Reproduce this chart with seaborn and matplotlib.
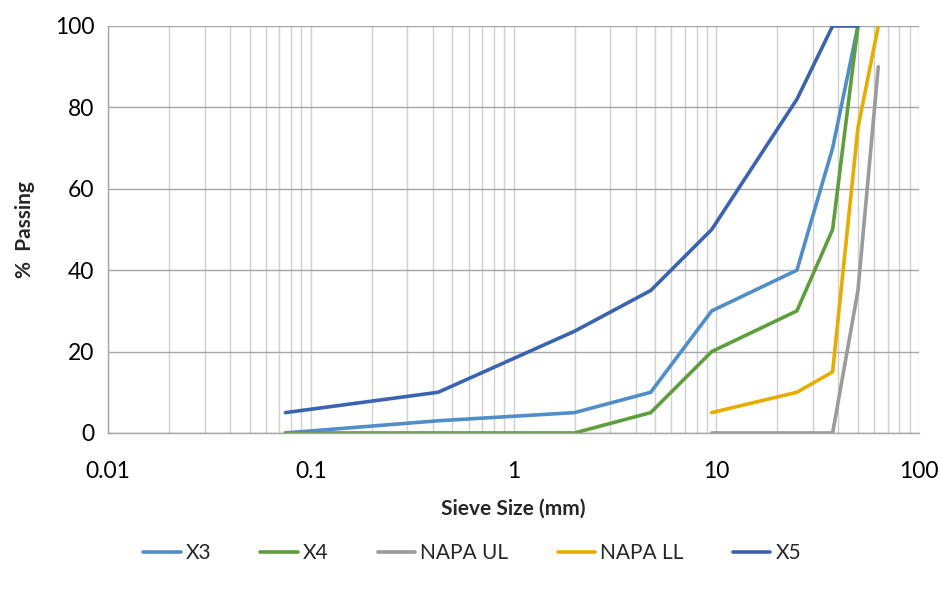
import pandas as pd
import matplotlib
matplotlib.use("Agg")
import matplotlib.pyplot as plt
import seaborn as sns
from matplotlib.ticker import LogLocator, FixedLocator, NullFormatter

sns.set_theme(style="white")
plt.rcParams["font.family"] = ["Lato", "DejaVu Sans"]

# ---- gradation data (sieve size mm, % passing) ----
x3_size = [0.075, 0.425, 2, 4.75, 9.5, 25, 37.5, 50]
x3_pass = [0, 3, 5, 10, 30, 40, 70, 100]
x4_size = [0.075, 0.425, 2, 4.75, 9.5, 25, 37.5, 50]
x4_pass = [0, 0, 0, 5, 20, 30, 50, 100]
ul_size = [9.5, 25, 37.5, 50, 63]
ul_pass = [0, 0, 0, 35, 90]
ll_size = [9.5, 25, 37.5, 50, 63]
ll_pass = [5, 10, 15, 75, 100]
x5_size = [0.075, 0.425, 2, 4.75, 9.5, 25, 37.5, 50]
x5_pass = [5, 10, 25, 35, 50, 82, 100, 100]

series = ["X3", "X4", "NAPA UL", "NAPA LL", "X5"]
colors = ["#4F8EC9", "#5F9E3C", "#9B9B9B", "#E6AD00", "#3B64B0"]

frames = []
for name, sz, ps in zip(series,
                        [x3_size, x4_size, ul_size, ll_size, x5_size],
                        [x3_pass, x4_pass, ul_pass, ll_pass, x5_pass]):
    frames.append(pd.DataFrame({"size": sz, "passing": ps, "series": name}))
df = pd.concat(frames, ignore_index=True)

fig = plt.figure(figsize=(9.41, 5.89), dpi=100)
ax = fig.add_axes([0.1148, 0.2649, 0.8618, 0.691])

sns.lineplot(data=df, x="size", y="passing", hue="series", hue_order=series,
             palette=dict(zip(series, colors)), sort=False, linewidth=2.6,
             estimator=None, ax=ax)

ax.set_xscale("log")
ax.set_xlim(0.01, 100)
ax.set_ylim(0, 100)
ax.xaxis.set_major_locator(FixedLocator([0.01, 0.1, 1, 10, 100]))
ax.set_xticklabels(["0.01", "0.1", "1", "10", "100"])
ax.xaxis.set_minor_locator(LogLocator(base=10, subs=range(2, 10)))
ax.xaxis.set_minor_formatter(NullFormatter())
ax.set_yticks([0, 20, 40, 60, 80, 100])

ax.grid(True, which="major", axis="y", color="#A6A6A6", linewidth=1)
ax.grid(True, which="both", axis="x", color="#D0D0D0", linewidth=1)
ax.set_axisbelow(True)
for s in ["top", "right"]:
    ax.spines[s].set_visible(False)
for s in ["left", "bottom"]:
    ax.spines[s].set_color("#A6A6A6")
    ax.spines[s].set_linewidth(1)
ax.tick_params(axis="both", which="both", length=0, labelsize=16.5, colors="black")
ax.tick_params(axis="x", pad=20)
ax.tick_params(axis="y", pad=10)

ax.set_xlabel("Sieve Size (mm)", fontsize=15, fontweight="bold", labelpad=12)
ax.set_ylabel("%  Passing", fontsize=15, fontweight="bold", labelpad=14)

ax.legend(loc="center", bbox_to_anchor=(0.449, -0.295), ncol=5, frameon=False,
          fontsize=15, handlelength=1.8, columnspacing=2.35, handletextpad=0.25)
fig.savefig("out.png", dpi=100)
